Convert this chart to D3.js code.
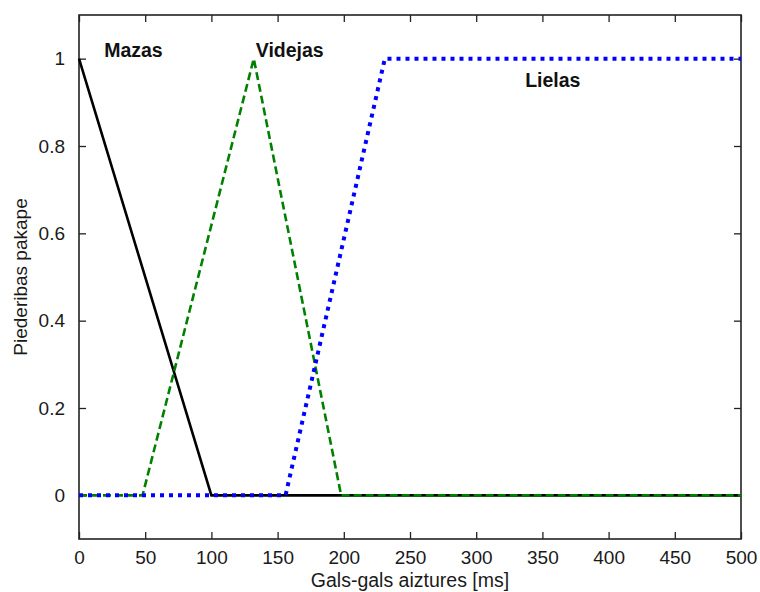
<!DOCTYPE html>
<html>
<head>
<meta charset="utf-8">
<script src="https://cdn.jsdelivr.net/npm/d3@7/dist/d3.min.js"></script>
<style>
  html, body { margin: 0; padding: 0; background: #fff; }
  svg { display: block; font-family: "Liberation Sans", Arial, sans-serif; }
</style>
</head>
<body>
<svg id="chart" width="760" height="592"></svg>
<script>
// Membership functions of the end-to-end delay (breakpoints in ms, membership degree)
const mazasX   = [0, 100, 500];
const mazasY   = [1, 0, 0];
const videjasX = [0, 48, 132, 198, 500];
const videjasY = [0, 0, 1, 0, 0];
const lielasX  = [0, 156, 231, 500];
const lielasY  = [0, 0, 1, 1];

// Term labels and where they sit in data coordinates
const termNames = ["Mazas", "Videjas", "Lielas"];
const termX     = [19, 133.5, 337];
const termY     = [1.003, 1.003, 0.935];

const xTicks = [0, 50, 100, 150, 200, 250, 300, 350, 400, 450, 500];
const yTicks = [0, 0.2, 0.4, 0.6, 0.8, 1];

const xLabel = "Gals-gals aiztures [ms]";
const yLabel = "Piederibas pakape";

const svg = d3.select("#chart");
const boxLeft = 79, boxRight = 741, boxTop = 15, boxBottom = 539;

const x = d3.scaleLinear().domain([0, 500]).range([boxLeft, boxRight]);
const y = d3.scaleLinear().domain([-0.1, 1.1]).range([boxBottom, boxTop]);

const tickLen = 7;
const axisColor = "#222";
const fontSize = 19;

// ticks pointing inward on all four sides
const g = svg.append("g");
function styleAxis(sel) {
  sel.select(".domain").remove();
  sel.selectAll(".tick line").attr("stroke", axisColor).attr("stroke-width", 1.3);
  sel.selectAll(".tick text").attr("fill", "#1a1a1a")
     .style("font-size", fontSize + "px")
     .style("font-family", "'Liberation Sans', Arial, sans-serif");
}
g.append("g").attr("transform", `translate(0,${boxBottom})`)
  .call(d3.axisBottom(x).tickValues(xTicks).tickFormat(d3.format("d"))
        .tickSizeInner(-tickLen).tickSizeOuter(0).tickPadding(12))
  .call(styleAxis);
g.append("g").attr("transform", `translate(0,${boxTop})`)
  .call(d3.axisTop(x).tickValues(xTicks).tickFormat("")
        .tickSizeInner(-tickLen).tickSizeOuter(0))
  .call(styleAxis);
g.append("g").attr("transform", `translate(${boxLeft},0)`)
  .call(d3.axisLeft(y).tickValues(yTicks).tickFormat(d => d === 0 || d === 1 ? d3.format("d")(d) : d3.format(".1f")(d))
        .tickSizeInner(-tickLen).tickSizeOuter(0).tickPadding(14))
  .call(styleAxis);
g.append("g").attr("transform", `translate(${boxRight},0)`)
  .call(d3.axisRight(y).tickValues(yTicks).tickFormat("")
        .tickSizeInner(-tickLen).tickSizeOuter(0))
  .call(styleAxis);

// plot box
svg.append("rect")
  .attr("x", boxLeft).attr("y", boxTop)
  .attr("width", boxRight - boxLeft).attr("height", boxBottom - boxTop)
  .attr("fill", "none").attr("stroke", axisColor).attr("stroke-width", 1.6);

const line = d3.line().x(d => x(d[0])).y(d => y(d[1]));
const plot = svg.append("g");

plot.append("path")
  .datum(d3.zip(mazasX, mazasY))
  .attr("d", line)
  .attr("fill", "none").attr("stroke", "#000").attr("stroke-width", 2.6);

plot.append("path")
  .datum(d3.zip(videjasX, videjasY))
  .attr("d", line)
  .attr("fill", "none").attr("stroke", "#008000").attr("stroke-width", 2.6)
  .attr("stroke-dasharray", "8,4");

plot.append("path")
  .datum(d3.zip(lielasX, lielasY))
  .attr("d", line)
  .attr("fill", "none").attr("stroke", "#0000ff").attr("stroke-width", 4)
  .attr("stroke-dasharray", "4,5");

// term labels
svg.append("g").selectAll("text")
  .data(termNames)
  .join("text")
  .attr("x", (d, i) => x(termX[i]))
  .attr("y", (d, i) => y(termY[i]))
  .attr("fill", "#111")
  .style("font-size", "19.5px")
  .style("font-weight", "bold")
  .text(d => d);

// axis titles
svg.append("text")
  .attr("x", (boxLeft + boxRight) / 2).attr("y", 587)
  .attr("text-anchor", "middle")
  .attr("fill", "#1a1a1a")
  .style("font-size", "19.5px")
  .text(xLabel);

svg.append("text")
  .attr("transform", `translate(27,${(boxTop + boxBottom) / 2}) rotate(-90)`)
  .attr("text-anchor", "middle")
  .attr("fill", "#1a1a1a")
  .style("font-size", "19px")
  .text(yLabel);
</script>
</body>
</html>
